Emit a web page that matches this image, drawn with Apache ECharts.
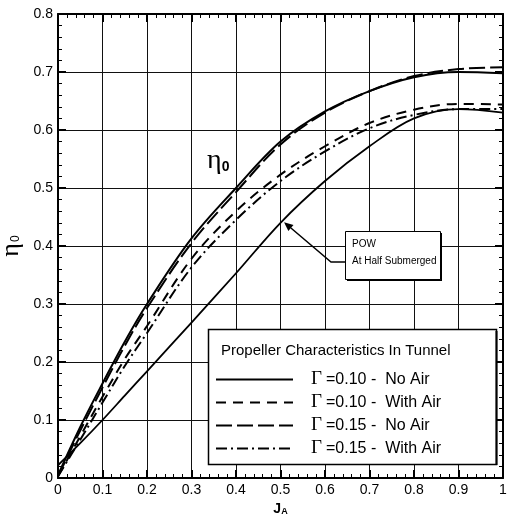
<!DOCTYPE html>
<html>
<head>
<meta charset="utf-8">
<script src="https://cdn.jsdelivr.net/npm/echarts@6/dist/echarts.min.js"></script>
<style>
html,body{margin:0;padding:0;background:#fff;}
#c{width:507px;height:514px;}
</style>
</head>
<body>
<div id="c"></div>
<script>
// ---- data ----
const jA = [0, 0.05, 0.1, 0.15, 0.2, 0.3, 0.4, 0.5, 0.6, 0.7, 0.8, 0.9, 1.0];
const eta010NoAir   = [0.005, 0.088, 0.163, 0.235, 0.300, 0.413, 0.500, 0.580, 0.632, 0.667, 0.691, 0.700, 0.698];
const eta010WithAir = [0.003, 0.072, 0.140, 0.205, 0.262, 0.378, 0.460, 0.523, 0.572, 0.612, 0.635, 0.645, 0.644];
const eta015NoAir   = [0.003, 0.082, 0.156, 0.228, 0.293, 0.405, 0.493, 0.575, 0.630, 0.667, 0.693, 0.705, 0.708];
const eta015WithAir = [0.003, 0.066, 0.130, 0.193, 0.250, 0.363, 0.445, 0.512, 0.563, 0.603, 0.626, 0.636, 0.636];
const etaPOW        = [0.022, 0.060, 0.100, 0.142, 0.184, 0.268, 0.353, 0.440, 0.512, 0.572, 0.620, 0.636, 0.630];

const seriesNames = ['\u0393 =0.10 - No Air', '\u0393 =0.10 - With Air', '\u0393 =0.15 - No Air', '\u0393 =0.15 - With Air'];
const legendTexts = ['=0.10 -  No Air', '=0.10 -  With Air', '=0.15 -  No Air', '=0.15 -  With Air'];
const powName = 'POW At Half Submerged';
const legendTitle = 'Propeller Characteristics In Tunnel';
const annotLines = ['POW', 'At Half Submerged'];
const powArrowTip = [0.508, 0.441];
const curveLabelPos = [0.36, 0.547];

const pairs = arr => jA.map((j, i) => [j, arr[i]]);
const FONT = 'Liberation Sans, Arial, sans-serif';

function mkSeries(name, arr, type, width) {
  return {
    name: name, type: 'line', data: pairs(arr), smooth: 0.35,
    showSymbol: false, symbol: 'none',
    lineStyle: { color: '#000', width: width, type: type },
    itemStyle: { color: '#000' },
    z: 3
  };
}

const axisCommon = {
  type: 'value', min: 0, interval: 0.1,
  axisLine: { show: true, onZero: false, lineStyle: { color: '#000', width: 2 } },
  axisTick: { show: true, inside: true, length: 8, lineStyle: { color: '#000', width: 2 } },
  minorTick: { show: true, splitNumber: 5, length: 4, lineStyle: { color: '#000', width: 1 } }
};
const fmt = v => (Math.abs(v) < 1e-9 ? '0' : Math.abs(v - 1) < 1e-9 ? '1' : v.toFixed(1));

const option = {
  animation: false,
  backgroundColor: '#fff',
  grid: { left: 58, right: 4, top: 14, bottom: 36, containLabel: false, outerBoundsMode: 'none' },
  xAxis: [
    Object.assign({}, axisCommon, {
      max: 1, position: 'bottom',
      splitLine: { show: true, lineStyle: { color: '#111', width: 1 } },
      axisLabel: { formatter: fmt, color: '#000', fontSize: 14, fontFamily: FONT, margin: 5 },
      name: '{j|J}{a|A}', nameLocation: 'middle', nameGap: 19,
      nameTextStyle: { rich: {
        j: { fontSize: 14, fontWeight: 'bold', fontFamily: FONT, color: '#000' },
        a: { fontSize: 9, fontWeight: 'bold', fontFamily: FONT, color: '#000', verticalAlign: 'bottom', padding: [6, 0, 0, 0] }
      } }
    }),
    Object.assign({}, axisCommon, {
      max: 1, position: 'top',
      splitLine: { show: false }, axisLabel: { show: false }
    })
  ],
  yAxis: [
    Object.assign({}, axisCommon, {
      max: 0.8, position: 'left',
      splitLine: { show: true, lineStyle: { color: '#111', width: 1 } },
      axisLabel: { formatter: fmt, color: '#000', fontSize: 14, fontFamily: FONT, margin: 5 },
      name: '{e|\u03B7}{s|0}', nameLocation: 'middle', nameGap: 34, nameRotate: 90,
      nameMoveOverlap: false,
      nameTextStyle: { rich: {
        e: { fontSize: 26, fontFamily: 'Liberation Serif, serif', color: '#000' },
        s: { fontSize: 12, fontFamily: FONT, color: '#000', padding: [10, 0, 0, 1] }
      } }
    }),
    Object.assign({}, axisCommon, {
      max: 0.8, position: 'right',
      splitLine: { show: false }, axisLabel: { show: false }
    })
  ],
  legend: {
    data: seriesNames, orient: 'vertical', left: 215, top: 370,
    padding: 0, itemGap: 4, itemWidth: 77, itemHeight: 14, z: 20,
    selectedMode: false,
    itemStyle: { opacity: 0, borderWidth: 0 },
    formatter: function (name) {
      const i = seriesNames.indexOf(name);
      return '{g|\u0393}{t|' + legendTexts[i] + '}';
    },
    textStyle: {
      padding: [0, 0, 0, 13],
      rich: {
        g: { fontSize: 19, lineHeight: 18, fontFamily: 'Liberation Serif, serif', color: '#000', padding: [0, 4, 0, 0] },
        t: { fontSize: 16, lineHeight: 18, fontFamily: FONT, color: '#000' }
      }
    }
  },
  series: [
    mkSeries(seriesNames[0], eta010NoAir, 'solid', 2),
    mkSeries(seriesNames[1], eta010WithAir, [10, 7], 2),
    mkSeries(seriesNames[2], eta015NoAir, [16, 5], 2),
    mkSeries(seriesNames[3], eta015WithAir, [11, 4, 2, 4], 2),
    mkSeries(powName, etaPOW, 'solid', 1.8)
  ]
};

const chart = echarts.init(document.getElementById('c'), null, { renderer: 'canvas' });
chart.setOption(option);

const toPx = d => chart.convertToPixel({ xAxisIndex: 0, yAxisIndex: 0 }, d);
const tip = toPx(powArrowTip);
const lbl = toPx(curveLabelPos);

// annotation box layout (pixels)
const bx = 345, by = 231, bw = 95, bh = 48;
const bend = [bx - 14, by + 31];
const ang = Math.atan2(tip[1] - bend[1], tip[0] - bend[0]);
const ah = 9, aw = 4;
const base = [tip[0] - ah * Math.cos(ang), tip[1] - ah * Math.sin(ang)];
const perp = [-Math.sin(ang) * aw, Math.cos(ang) * aw];

chart.setOption({
  graphic: [
    // legend frame
    { type: 'rect', z: 10, shape: { x: 208.5, y: 329.5, width: 288, height: 135 },
      style: { fill: '#fff', stroke: '#000', lineWidth: 1.5 } },
    { type: 'line', z: 11, shape: { x1: 496.5, y1: 331, x2: 496.5, y2: 465 }, style: { stroke: '#000', lineWidth: 2 } },
    { type: 'text', z: 11, x: 221, y: 343,
      style: { text: legendTitle, fontSize: 15, fontFamily: FONT, fill: '#000' } },
    // curve label
    { type: 'text', z: 11, x: lbl[0], y: lbl[1],
      style: { text: '{e|\u03B7}{s|0}', align: 'center', verticalAlign: 'middle',
        rich: { e: { fontSize: 28, fontFamily: 'Liberation Serif, serif', fill: '#000' },
                s: { fontSize: 14, fontWeight: 'bold', fontFamily: FONT, fill: '#000', padding: [12, 0, 0, 0] } } } },
    // annotation box
    { type: 'rect', z: 10, shape: { x: bx + 2, y: by + 2, width: bw, height: bh }, style: { fill: '#000' } },
    { type: 'rect', z: 11, shape: { x: bx + 0.5, y: by + 0.5, width: bw, height: bh },
      style: { fill: '#fff', stroke: '#000', lineWidth: 1 } },
    { type: 'text', z: 12, x: bx + 7, y: by + 8,
      style: { text: annotLines[0], fontSize: 10, fontFamily: FONT, fill: '#000' } },
    { type: 'text', z: 12, x: bx + 7, y: by + 25,
      style: { text: annotLines[1], fontSize: 10, fontFamily: FONT, fill: '#000' } },
    // arrow
    { type: 'polyline', z: 12, shape: { points: [[bx, bend[1]], bend, base] },
      style: { stroke: '#000', lineWidth: 1.5, fill: null } },
    { type: 'polygon', z: 12, shape: { points: [tip, [base[0] + perp[0], base[1] + perp[1]], [base[0] - perp[0], base[1] - perp[1]]] },
      style: { fill: '#000' } }
  ]
});
</script>
</body>
</html>
